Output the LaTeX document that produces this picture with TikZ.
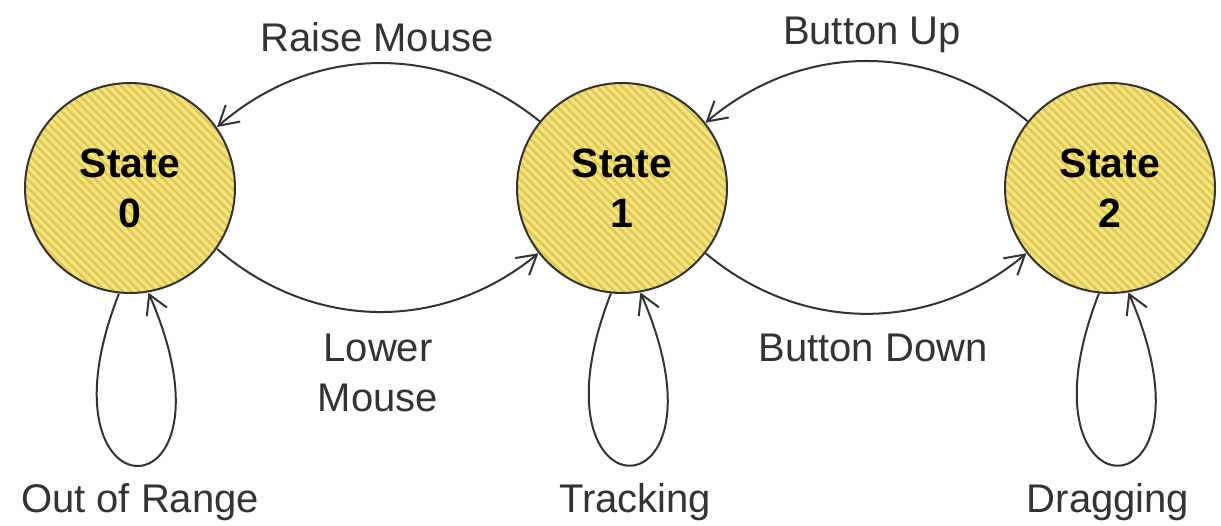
\documentclass[tikz,border=0pt]{standalone}
\usepackage{fontspec}
\setmainfont{Liberation Sans}
\usepackage{xcolor}
\usetikzlibrary{
	arrows.meta,									% 箭头样式
	patterns.meta,									% 斜线填充
}

\definecolor{stateyellow}{HTML}{F4E484}
\definecolor{stripeyellow}{HTML}{E0C84E}
\definecolor{inkgray}{HTML}{333333}

\tikzset{
	state/.style={circle, draw=inkgray, line width=2pt, minimum size=210pt, inner sep=0pt,
		preaction={fill=stateyellow},
		pattern={Lines[angle=-45, distance=6pt, line width=2.5pt]}, pattern color=stripeyellow,
		font=\fontsize{41}{50}\selectfont\bfseries, text=black, align=center},
	trans/.style={draw=inkgray, line width=2pt, -{Straight Barb[angle=60:22pt]}},
	tlabel/.style={font=\fontsize{40}{50}\selectfont, text=inkgray, inner sep=0pt, anchor=base},
}

\begin{document}
\begin{tikzpicture}[x=1pt, y=1pt]
		\fill[white] (0,0) rectangle (1221,525);
		\useasboundingbox (0,0) rectangle (1221,525);

		% 三个状态
		\node[state] (s0) at (130,337) {State\\0};
		\node[state] (s1) at (622,337) {State\\1};
		\node[state] (s2) at (1110,337) {State\\2};

		% 状态之间的转移
		\draw[trans] (s1.141) to[bend right=40] (s0.35);
		\draw[trans] (s0.-35) to[bend right=40] (s1.-142);
		\draw[trans] (s2.141) to[bend right=40] (s1.38);
		\draw[trans] (s1.-38) to[bend right=40] (s2.-142);

		% 自环
		\draw[trans] (s0.264) .. controls +(-90,-230) and +(100,-230) .. (s0.280);
		\draw[trans] (s1.264) .. controls +(-90,-230) and +(100,-230) .. (s1.280);
		\draw[trans] (s2.264) .. controls +(-90,-230) and +(100,-230) .. (s2.280);

		% 标注
		\node[tlabel] (lraise) at (377,473) {Raise Mouse};
		\node[tlabel] (lup) at (872,480) {Button Up};
		\node[tlabel, align=center] (llower) at (378,113) {Lower\\Mouse};
		\node[tlabel] (ldown) at (873,163) {Button Down};
		\node[tlabel] (lout) at (140,13) {Out of Range};
		\node[tlabel] (ltrack) at (635,13) {Tracking};
		\node[tlabel] (ldrag) at (1108,13) {Dragging};
	\end{tikzpicture}
\end{document}
